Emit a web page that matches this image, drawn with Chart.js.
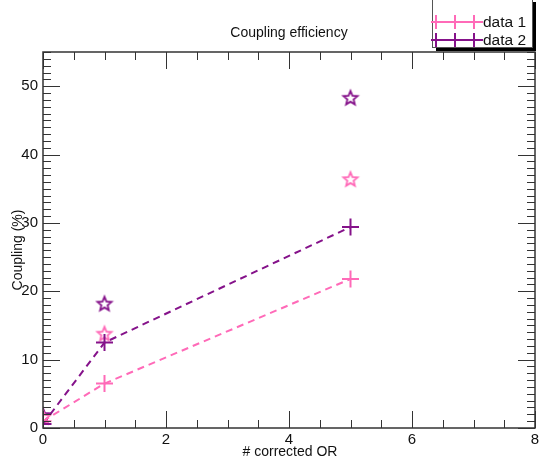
<!DOCTYPE html>
<html lang="en">
<head>
<meta charset="UTF-8">
<title>Coupling efficiency</title>
<script src="https://cdn.jsdelivr.net/npm/chart.js"></script>
<style>
  html, body { margin: 0; padding: 0; background: #ffffff; }
  #wrap { width: 539px; height: 462px; position: relative; }
</style>
</head>
<body>
<div id="wrap"><canvas id="myChartCanvas"></canvas></div>

<script>
// data
var xCorrected = [0, 1, 5];
var data1Plus = [1.0, 6.5, 21.8];
var data2Plus = [0.6, 12.5, 29.4];
var data1Star = [1.6, 13.8, 36.4];
var data2Star = [1.9, 18.2, 48.3];

var xTicks = [0, 2, 4, 6, 8];
var yTicks = [0, 10, 20, 30, 40, 50];

var pink = '#ff6ab8';
var purple = '#85128a';
var fontName = '"Liberation Sans", Arial, Helvetica, sans-serif';

function pts(xs, ys) {
    var out = [];
    for (var i = 0; i < xs.length; i++) out.push({ x: xs[i], y: ys[i] });
    return out;
}

// 5 point outline star used as point style
function makeStar(color) {
    var c = document.createElement('canvas');
    c.width = 20; c.height = 20;
    var g = c.getContext('2d');
    g.beginPath();
    for (var i = 0; i < 10; i++) {
        var r = (i % 2 == 0) ? 7.4 : 3.3;
        var a = -Math.PI / 2 + i * Math.PI / 5;
        var px = 10 + r * Math.cos(a), py = 10.6 + r * Math.sin(a);
        if (i == 0) g.moveTo(px, py); else g.lineTo(px, py);
    }
    g.closePath();
    g.fillStyle = '#ffffff';
    g.fill();
    g.lineWidth = 1.8;
    g.strokeStyle = color;
    g.stroke();
    return c;
}

// frame with inward ticks, titles and legend
var framePlugin = {
    id: 'frame',
    afterDatasetsDraw: function (chart) {
        var ctx = chart.ctx;
        var a = chart.chartArea;
        var sx = chart.scales.x, sy = chart.scales.y;
        ctx.save();
        ctx.strokeStyle = '#333333';
        ctx.lineWidth = 1;
        ctx.beginPath();
        // x ticks bottom/top
        for (var v = 0; v <= 8.001; v += 0.5) {
            var px = Math.round(sx.getPixelForValue(v)) + 0.5;
            var len = (Math.abs(v % 2) < 0.001) ? 17 : 8;
            ctx.moveTo(px, a.bottom); ctx.lineTo(px, a.bottom - len);
            ctx.moveTo(px, a.top); ctx.lineTo(px, a.top + len);
        }
        // y ticks left/right
        for (var w = 0; w <= 55.001; w += 1) {
            var py = Math.round(sy.getPixelForValue(w)) + 0.5;
            var l2 = (w % 10 == 0) ? 17 : 8;
            ctx.moveTo(a.left, py); ctx.lineTo(a.left + l2, py);
            ctx.moveTo(a.right, py); ctx.lineTo(a.right - l2, py);
        }
        ctx.stroke();
        ctx.lineWidth = 1.5;
        ctx.strokeRect(a.left, a.top, a.right - a.left, a.bottom - a.top);

        // x tick labels
        ctx.fillStyle = '#111111';
        ctx.font = '15px ' + fontName;
        ctx.textAlign = 'center';
        ctx.textBaseline = 'middle';
        xTicks.forEach(function (t) {
            ctx.fillText(String(t), sx.getPixelForValue(t), a.bottom + 12);
        });

        // titles
        ctx.font = '14px ' + fontName;
        ctx.fillText('Coupling efficiency', 289, 33);
        ctx.fillText('# corrected OR', 290, 452);
        ctx.save();
        ctx.translate(18, 250);
        ctx.rotate(-Math.PI / 2);
        ctx.fillText('Coupling (%)', 0, 0);
        ctx.restore();

        // legend box with shadow
        ctx.fillStyle = '#000000';
        ctx.fillRect(436, 2, 100, 49);
        ctx.fillStyle = '#ffffff';
        ctx.fillRect(432, -1, 101, 49);
        ctx.strokeStyle = '#555555';
        ctx.lineWidth = 1;
        ctx.strokeRect(432.5, -1.5, 100, 49);

        var rows = [{ c: pink, t: 'data 1', y: 22 }, { c: purple, t: 'data 2', y: 40 }];
        rows.forEach(function (r) {
            ctx.strokeStyle = r.c;
            ctx.lineWidth = 2;
            ctx.beginPath();
            ctx.moveTo(431, r.y); ctx.lineTo(483, r.y);
            [436, 455, 474].forEach(function (cx) {
                ctx.moveTo(cx, r.y - 7); ctx.lineTo(cx, r.y + 7);
            });
            ctx.stroke();
            ctx.fillStyle = '#111111';
            ctx.font = '15.5px ' + fontName;
            ctx.textAlign = 'left';
            ctx.fillText(r.t, 483, r.y + 1);
        });
        ctx.restore();
    }
};

function plotarGrafico() {
    var dados = {
        datasets: [
            {
                label: 'data 1',
                data: pts(xCorrected, data1Plus),
                borderColor: pink,
                backgroundColor: pink,
                borderWidth: 2,
                borderDash: [7, 5],
                pointStyle: 'cross',
                pointRadius: 8.5,
                pointBorderWidth: 2,
                showLine: true,
                clip: 0
            },
            {
                label: 'data 2',
                data: pts(xCorrected, data2Plus),
                borderColor: purple,
                backgroundColor: purple,
                borderWidth: 2,
                borderDash: [7, 5],
                pointStyle: 'cross',
                pointRadius: 8.5,
                pointBorderWidth: 2,
                showLine: true,
                clip: 0
            },
            {
                label: 'data 1 star',
                data: pts(xCorrected, data1Star),
                pointStyle: makeStar(pink),
                borderWidth: 0,
                showLine: false,
                clip: 0
            },
            {
                label: 'data 2 star',
                data: pts(xCorrected, data2Star),
                pointStyle: makeStar(purple),
                borderWidth: 0,
                showLine: false,
                clip: 0
            }
        ]
    };

    var config = {
        type: 'scatter',
        data: dados,
        options: {
            responsive: false,
            animation: false,
            layout: { autoPadding: false, padding: { top: 52, right: 4, left: 0, bottom: 0 } },
            plugins: {
                legend: { display: false },
                title: { display: false },
                tooltip: { enabled: false }
            },
            scales: {
                x: {
                    type: 'linear',
                    min: 0,
                    max: 8,
                    afterFit: function (s) { s.height = 34; },
                    afterBuildTicks: function (s) { s.ticks = xTicks.map(function (v) { return { value: v }; }); },
                    grid: { display: false, drawTicks: false },
                    border: { display: false },
                    ticks: { display: false }
                },
                y: {
                    type: 'linear',
                    min: 0,
                    max: 55,
                    afterFit: function (s) { s.width = 43; },
                    afterBuildTicks: function (s) { s.ticks = yTicks.map(function (v) { return { value: v }; }); },
                    grid: { display: false, drawTicks: false },
                    border: { display: false },
                    ticks: {
                        color: '#111111',
                        padding: 5,
                        font: { family: fontName, size: 15 }
                    }
                }
            }
        },
        plugins: [framePlugin]
    };

    var canvas = document.getElementById('myChartCanvas');
    canvas.width = 539;
    canvas.height = 462;
    new Chart(canvas.getContext('2d'), config);
}

plotarGrafico();
</script>
</body>
</html>
